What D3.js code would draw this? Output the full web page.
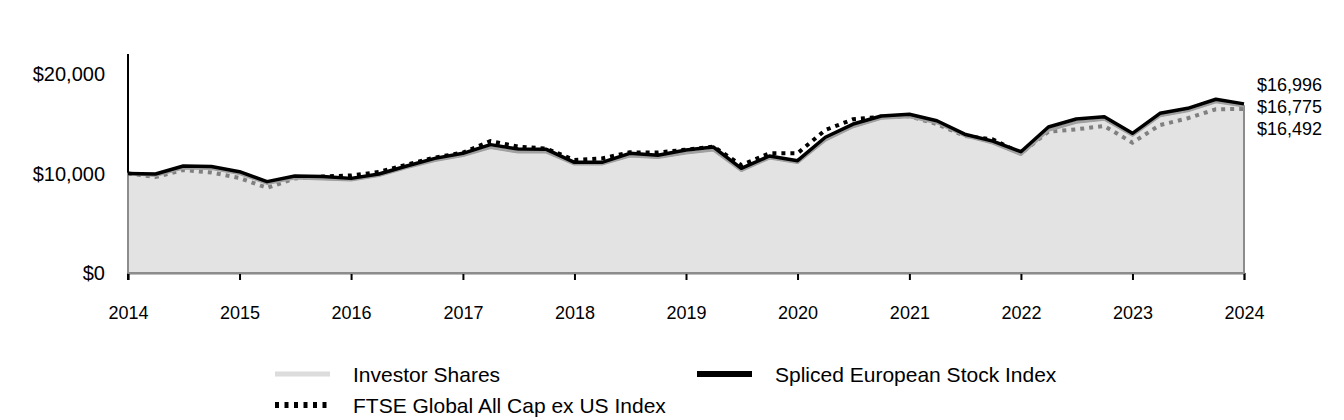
<!DOCTYPE html>
<html>
<head>
<meta charset="utf-8">
<script src="https://cdn.jsdelivr.net/npm/d3@7"></script>
<style>
  html, body { margin: 0; padding: 0; background: #fff; }
  svg text { font-family: "Liberation Sans", Arial, sans-serif; fill: #000; }
</style>
</head>
<body>
<svg id="chart" width="1344" height="420"></svg>
<script>
// ---- data ----
const dates = [
  "2014-01-01","2014-04-01","2014-07-01","2014-10-01",
  "2015-01-01","2015-04-01","2015-07-01","2015-10-01",
  "2016-01-01","2016-04-01","2016-07-01","2016-10-01",
  "2017-01-01","2017-04-01","2017-07-01","2017-10-01",
  "2018-01-01","2018-04-01","2018-07-01","2018-10-01",
  "2019-01-01","2019-04-01","2019-07-01","2019-10-01",
  "2020-01-01","2020-04-01","2020-07-01","2020-10-01",
  "2021-01-01","2021-04-01","2021-07-01","2021-10-01",
  "2022-01-01","2022-04-01","2022-07-01","2022-10-01",
  "2023-01-01","2023-04-01","2023-07-01","2023-10-01",
  "2024-01-01"
];
const investorShares = [
  10000, 9800, 10550, 10500, 10000, 9000, 9550, 9450, 9350, 9800,
  10600, 11300, 11800, 12600, 12150, 12150, 10950, 10950, 11750, 11600,
  12050, 12350, 10300, 11550, 11100, 13350, 14700, 15550, 15700, 15100,
  13800, 13050, 11900, 14350, 15150, 15450, 13850, 15800, 16300, 17200,
  16775
];
const splicedEuropean = [
  10000, 9950, 10750, 10700, 10180, 9180, 9750, 9700, 9510, 9950,
  10750, 11520, 12030, 12900, 12460, 12430, 11120, 11120, 12030, 11830,
  12360, 12660, 10520, 11760, 11290, 13640, 14970, 15780, 15950, 15300,
  13950, 13250, 12190, 14670, 15480, 15710, 14040, 16050, 16550, 17460,
  16996
];
const ftseGlobal = [
  10000, 9650, 10350, 10100, 9550, 8550, 9500, 9700, 9800, 10150,
  10900, 11600, 12100, 13250, 12700, 12500, 11360, 11520, 12130, 12100,
  12400, 12700, 10850, 12030, 12030, 14370, 15450, 15700, 15750, 14970,
  13770, 13430, 12030, 14200, 14440, 14770, 13100, 14870, 15550, 16450,
  16492
];
const yTicks = [0, 10000, 20000];
const xTickYears = [2014, 2015, 2016, 2017, 2018, 2019, 2020, 2021, 2022, 2023, 2024];
const seriesNames = ["Investor Shares", "Spliced European Stock Index", "FTSE Global All Cap ex US Index"];
const endLabels = ["$16,996", "$16,775", "$16,492"];

// ---- layout ----
const svg = d3.select("#chart");
const mLeft = 128, mRight = 1244, mTop = 74, mBottom = 273;
const parse = d3.timeParse("%Y-%m-%d");
const x = d3.scaleTime()
  .domain([parse("2014-01-01"), parse("2024-01-01")])
  .range([mLeft, mRight]);
const y = d3.scaleLinear().domain([0, 20000]).range([mBottom, mTop]);

const pts = (arr) => arr.map((v, i) => ({ d: parse(dates[i]), v }));

// y axis line
svg.append("line")
  .attr("x1", mLeft).attr("x2", mLeft)
  .attr("y1", 54).attr("y2", mBottom + 7)
  .attr("stroke", "#000").attr("stroke-width", 2);

// y labels
const fmt = d3.format(",");
svg.selectAll("text.ylab").data(yTicks).enter().append("text")
  .attr("class", "ylab")
  .attr("x", 105).attr("y", d => y(d) + 7)
  .attr("text-anchor", "end")
  .attr("font-size", 20)
  .text(d => "$" + fmt(d));

// x axis
const xAxis = d3.axisBottom(x)
  .tickValues(xTickYears.map(yy => new Date(yy, 0, 1)))
  .tickSize(7)
  .tickFormat(d3.timeFormat("%Y"));
const gx = svg.append("g").attr("transform", `translate(0,${mBottom})`).call(xAxis);
gx.select(".domain").attr("stroke", "#000").attr("stroke-width", 1.5);
gx.selectAll(".tick line").attr("stroke", "#000").attr("stroke-width", 2);
gx.selectAll(".tick text")
  .attr("font-size", 18).attr("font-family", "Liberation Sans, Arial, sans-serif")
  .attr("fill", "#000").attr("dy", 0).attr("y", 46);

const line = d3.line().x(p => x(p.d)).y(p => y(p.v));
const area = d3.area().x(p => x(p.d)).y0(y(0)).y1(p => y(p.v));

// FTSE dotted (under the translucent area)
svg.append("path").datum(pts(ftseGlobal))
  .attr("d", line)
  .attr("fill", "none")
  .attr("stroke", "#000")
  .attr("stroke-width", 4)
  .attr("stroke-dasharray", "4,5");

// Investor shares area
svg.append("path").datum(pts(investorShares))
  .attr("d", area)
  .attr("fill", "#d2d2d2")
  .attr("fill-opacity", 0.61)
  .attr("stroke", "#8c8c8c")
  .attr("stroke-width", 2)
  .attr("stroke-linejoin", "round");

// Investor line band
svg.append("path").datum(pts(investorShares))
  .attr("d", line)
  .attr("fill", "none")
  .attr("stroke", "#a0a0a0")
  .attr("stroke-width", 3)
  .attr("stroke-linejoin", "round");

// Spliced black solid
svg.append("path").datum(pts(splicedEuropean))
  .attr("d", line)
  .attr("fill", "none")
  .attr("stroke", "#000")
  .attr("stroke-width", 3.5)
  .attr("stroke-linejoin", "round");

// end labels
svg.selectAll("text.end").data(endLabels).enter().append("text")
  .attr("class", "end")
  .attr("x", 1257).attr("y", (d, i) => 91 + i * 22)
  .attr("font-size", 18)
  .text(d => d);

// legend
const legend = [
  { name: seriesNames[0], x: 275, y: 374, stroke: "#dcdcdc", w: 5, dash: null },
  { name: seriesNames[1], x: 697, y: 374, stroke: "#000", w: 6, dash: null },
  { name: seriesNames[2], x: 275, y: 405, stroke: "#000", w: 6, dash: "4,5.5" }
];
const lg = svg.selectAll("g.lg").data(legend).enter().append("g").attr("class", "lg");
lg.append("line")
  .attr("x1", d => d.x).attr("x2", d => d.x + 55)
  .attr("y1", d => d.y).attr("y2", d => d.y)
  .attr("stroke", d => d.stroke).attr("stroke-width", d => d.w)
  .attr("stroke-dasharray", d => d.dash);
lg.append("text")
  .attr("x", d => d.x + 78).attr("y", d => d.y + 8)
  .attr("font-size", 21)
  .text(d => d.name);
</script>
</body>
</html>
